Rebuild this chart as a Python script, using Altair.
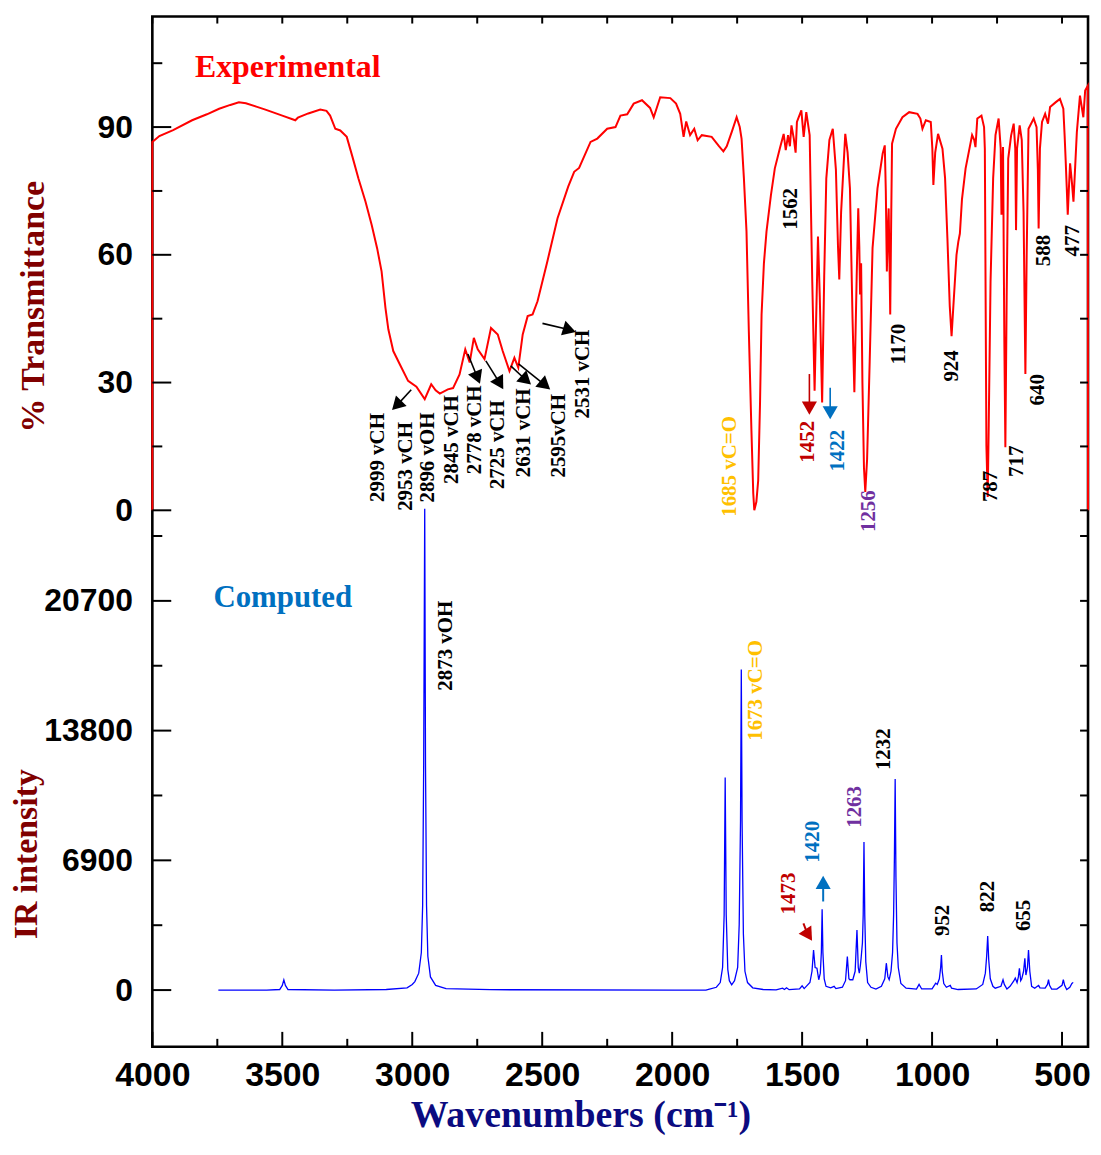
import altair as alt
import pandas as pd

W, H = 940, 1035

# ---------------- Experimental FT-IR spectrum (wavenumber, %T) ----------------
exp_wn = [4000, 4000, 3973, 3920, 3847, 3790, 3743, 3700, 3667, 3640, 3600, 3565, 3500, 3450, 3440,
          3400, 3354, 3330, 3316, 3296, 3277, 3252, 3230, 3207, 3180, 3156, 3135, 3118, 3103, 3092,
          3073, 3048, 3016, 2984, 2952, 2927, 2910, 2894, 2863, 2843, 2818, 2796, 2779, 2763, 2748,
          2722, 2697, 2671, 2652, 2626, 2607, 2592, 2575, 2556, 2537, 2518, 2480, 2441, 2400, 2377,
          2358, 2314, 2288, 2250, 2218, 2199, 2173, 2148, 2116, 2085, 2071, 2046, 2007, 1985, 1969,
          1956, 1946, 1931, 1915, 1902, 1886, 1848, 1820, 1803, 1790, 1770, 1752, 1740, 1733, 1724,
          1714, 1705, 1695, 1688, 1684, 1676, 1669, 1662, 1656, 1647, 1637, 1620, 1605, 1586, 1571,
          1563, 1554, 1547, 1541, 1532, 1525, 1520, 1503, 1494, 1484, 1471, 1461, 1452, 1446, 1439,
          1432, 1423, 1415, 1407, 1395, 1382, 1370, 1362, 1357, 1350, 1334, 1325, 1316, 1306, 1299,
          1290, 1284, 1280, 1277, 1273, 1268, 1262, 1257, 1250, 1240, 1229, 1210, 1190, 1182, 1178,
          1174, 1170, 1167, 1163, 1161, 1157, 1154, 1139, 1114, 1088, 1056, 1045, 1037, 1024, 1005,
          999, 995, 988, 977, 960, 950, 941, 932, 925, 918, 906, 899, 893, 885, 871,
          846, 838, 833, 826, 810, 800, 797, 791, 786, 782, 775, 765, 756, 744, 736,
          733, 730, 727, 722, 718, 713, 707, 696, 686, 680, 677, 673, 663, 655, 648,
          641, 636, 629, 609, 598, 593, 590, 585, 577, 565, 554, 546, 525, 508, 495,
          490, 486, 482, 478, 474, 469, 462, 456, 450, 443, 431, 418, 411, 401, 400]
exp_T = [0, 86.5, 87.9, 89.3, 91.6, 93.0, 94.3, 95.2, 95.8, 95.6, 94.8, 94.1, 92.7, 91.6, 92.2,
         93.2, 94.1, 93.8, 92.7, 89.6, 89.2, 87.7, 83.0, 77.9, 72.5, 67.0, 61.5, 56.1, 47.5, 42.5,
         37.4, 34.3, 30.4, 29.0, 26.1, 29.6, 28.2, 27.4, 28.4, 28.7, 31.9, 37.8, 34.7, 40.5, 37.8,
         35.5, 42.8, 41.3, 37.4, 32.7, 35.8, 33.5, 41.3, 45.6, 46.0, 49.1, 58.5, 68.6, 76.0, 79.5,
         80.4, 86.5, 87.3, 89.6, 90.0, 92.7, 93.0, 95.5, 96.3, 94.5, 92.3, 97.0, 96.8, 95.5, 93.1,
         87.7, 91.3, 88.1, 89.6, 86.9, 88.1, 87.7, 85.5, 84.3, 85.5, 89.0, 92.3, 90.0, 87.3, 78.0,
         65.5, 42.0, 18.7, 4.0, 0.0, 2.0, 7.0, 25.0, 46.0, 58.0, 65.5, 74.0, 80.3, 84.9, 88.4,
         84.6, 88.1, 85.5, 90.4, 87.3, 84.0, 91.2, 93.9, 87.7, 93.5, 88.1, 53.8, 28.1, 45.0, 64.3,
         50.0, 25.3, 55.0, 77.9, 87.0, 89.6, 80.0, 62.0, 54.2, 70.0, 88.4, 84.0, 75.6, 45.0, 27.7,
         55.0, 70.9, 62.0, 50.7, 58.0, 30.0, 10.0, 4.3, 12.0, 35.0, 61.6, 75.6, 83.8, 85.7, 75.0,
         56.1, 66.0, 70.9, 55.0, 46.0, 70.0, 86.1, 89.6, 92.3, 93.5, 93.1, 92.0, 89.6, 91.6, 91.2,
         85.0, 76.4, 84.0, 88.4, 84.9, 78.0, 63.9, 48.0, 40.9, 48.0, 60.0, 63.1, 65.0, 73.0, 80.3,
         88.1, 87.0, 85.3, 92.0, 92.7, 90.0, 84.9, 15.2, 3.1, 20.0, 53.8, 78.0, 88.1, 92.0, 85.0,
         69.4, 80.0, 85.3, 40.0, 14.8, 50.0, 82.6, 88.0, 90.8, 85.0, 65.8, 85.0, 90.4, 87.0, 70.0,
         32.0, 60.0, 89.6, 92.0, 90.0, 80.0, 66.2, 85.0, 91.2, 93.1, 90.8, 94.7, 95.8, 96.6, 94.3,
         88.0, 82.2, 76.0, 69.4, 75.0, 81.5, 77.0, 72.5, 80.0, 88.8, 97.4, 92.3, 98.6, 99.7, 0]

# ---------------- Computed IR spectrum (wavenumber, intensity) ----------------
calc_wn = [3746, 3560, 3510, 3500, 3494, 3488, 3478, 3300, 3100, 3020, 3000, 2990, 2975, 2965, 2960,
           2956, 2952, 2949, 2945, 2940, 2930, 2910, 2870, 2700, 1990, 1870, 1860, 1830, 1815, 1806,
           1800, 1796, 1792, 1786, 1780, 1771, 1760, 1748, 1742, 1737, 1734, 1731, 1726, 1720, 1710,
           1690, 1650, 1600, 1575, 1568, 1560, 1550, 1510, 1500, 1492, 1470, 1462, 1456, 1450, 1443,
           1436, 1430, 1426, 1423, 1420, 1415, 1408, 1390, 1377, 1370, 1345, 1333, 1326, 1320, 1316,
           1305, 1296, 1289, 1284, 1280, 1276, 1273, 1268, 1265, 1262, 1259, 1255, 1248, 1235, 1216,
           1195, 1182, 1176, 1170, 1165, 1158, 1152, 1148, 1145, 1142, 1139, 1135, 1130, 1120, 1100,
           1060, 1050, 1040, 1000, 989, 986, 980, 972, 967, 964, 961, 955, 945, 930, 925,
           900, 830, 805, 795, 790, 786, 782, 776, 766, 757, 735, 727, 722, 712, 700,
           685, 680, 673, 668, 664, 659, 655, 648, 643, 639, 633, 629, 624, 617, 605,
           595, 590, 585, 565, 556, 552, 548, 540, 520, 500, 495, 490, 482, 470, 462, 457]
calc_I = [0, 0, 30, 250, 545, 250, 30, 0, 30, 120, 300, 450, 900, 2000, 4500,
          12000, 25600, 12000, 4500, 1800, 700, 250, 80, 20, 0, 0, 40, 150, 400, 1200,
          4000, 11300, 4000, 1100, 500, 280, 500, 1200, 3500, 9000, 17050, 9000, 3000, 1000, 400,
          120, 30, 10, 100, 30, 120, 20, 60, 230, 80, 400, 1000, 2130, 1200, 1160,
          550, 900, 2000, 4300, 2000, 600, 200, 120, 200, 80, 150, 500, 1780, 600, 550,
          550, 1000, 3190, 1200, 900, 1300, 1690, 2500, 4000, 7870, 4000, 1500, 400, 150, 50,
          200, 600, 1430, 700, 550, 1000, 2000, 4000, 7000, 11220, 6000, 2500, 1200, 350, 100,
          50, 300, 60, 60, 300, 370, 300, 600, 1200, 1870, 1000, 350, 150, 250, 100,
          30, 60, 300, 900, 1800, 2875, 1600, 600, 200, 100, 200, 550, 300, 60, 200,
          500, 640, 400, 700, 1160, 500, 600, 1000, 1690, 800, 1200, 2130, 1000, 200, 100,
          200, 250, 120, 100, 300, 550, 250, 50, 50, 250, 550, 250, 30, 150, 350, 410]

# ---------------- Axis ticks ----------------
x_major = [4000, 3500, 3000, 2500, 2000, 1500, 1000, 500]
x_minor = [3750, 3250, 2750, 2250, 1750, 1250, 750]
t_major = [0, 30, 60, 90]
t_minor = [15, 45, 75, 105]
i_major = [0, 6900, 13800, 20700]
i_minor = [3450, 10350, 17250, 24150]

# ---------------- Annotations ----------------
up_text = ["2999 vCH", "2953 vCH", "2896 vOH", "2845 vCH", "2778 vCH", "2725 vCH", "2631 vCH",
           "2595vCH", "2531 vCH", "1685 vC=O", "1562", "1452", "1422", "1256", "1170", "924",
           "787", "717", "640", "588", "477"]
up_wn = [3131, 3023, 2939, 2847, 2759, 2671, 2571, 2437, 2342, 1779, 1541, 1476, 1361, 1243,
         1128, 925, 775, 672, 591, 568, 457]
up_T = [12.4, 10.3, 12.4, 16.6, 18.9, 15.4, 18.2, 17.5, 32.0, 10.3, 70.8, 16.1, 14.0, -0.2,
        39.0, 33.9, 5.6, 11.5, 28.3, 61.0, 63.3]
up_role = ["k"] * 9 + ["gold", "k", "dred", "blue", "purple"] + ["k"] * 7

lo_text = ["2873 vOH", "1673 vC=O", "1232", "1263", "1420", "1473", "952", "822", "655"]
lo_wn = [2870, 1679, 1185, 1296, 1457, 1549, 959, 783, 645]
lo_I = [18317, 15935, 12811, 9741, 7888, 5135, 3706, 4976, 3971]
lo_role = ["k", "gold", "k", "purple", "blue", "dred", "k", "k", "k"]

# arrows: start point, head point, head direction (deg)
ua_wn1 = [3004, 2786, 2717, 2621, 2591, 2499, 1472, 1392]
ua_T1 = [28.3, 36.7, 35.1, 33.9, 34.4, 43.9, 32.0, 28.8]
ua_wn2 = [3054, 2752, 2667, 2568, 2495, 2403, 1472, 1392]
ua_T2 = [25.0, 31.6, 30.2, 30.9, 29.7, 42.5, 24.5, 23.4]
ua_ang = [225, 158, 149, 132, 130, 107, 180, 180]
ua_role = ["k"] * 6 + ["dred", "blue"]

la_wn1 = [1495, 1419]
la_I1 = [3547, 4712]
la_wn2 = [1480, 1419]
la_I2 = [3018, 5612]
la_ang = [147, 0]
la_role = ["dred", "blue"]

roles = ["k", "gold", "dred", "blue", "purple"]
role_colors = ["#000000", "#FFC000", "#C00000", "#0070C0", "#7030A0"]
role_scale = alt.Scale(domain=roles, range=role_colors)

# ---------------- Data frames ----------------
exp_df = pd.DataFrame({"wn": exp_wn, "v": exp_T, "i": list(range(len(exp_wn)))})
calc_df = pd.DataFrame({"wn": calc_wn, "v": calc_I, "i": list(range(len(calc_wn)))})
up_lab = pd.DataFrame({"wn": up_wn, "v": up_T, "t": up_text, "r": up_role})
lo_lab = pd.DataFrame({"wn": lo_wn, "v": lo_I, "t": lo_text, "r": lo_role})
up_arr = pd.DataFrame({"wn": ua_wn1, "v": ua_T1, "wn2": ua_wn2, "v2": ua_T2, "a": ua_ang, "r": ua_role})
lo_arr = pd.DataFrame({"wn": la_wn1, "v": la_I1, "wn2": la_wn2, "v2": la_I2, "a": la_ang, "r": la_role})

xs = alt.Scale(domain=[400, 4000], reverse=True, nice=False, zero=False)
ys_T = alt.Scale(domain=[-126.0, 115.95], nice=False, zero=False)
ys_I = alt.Scale(domain=[-3018, 51777], nice=False, zero=False)

SANS = "Liberation Sans"
SERIF = "Liberation Serif"

x_axis = alt.Axis(values=x_major, format="d", ticks=False, domain=False, grid=False,
                  labelFont=SANS, labelFontWeight="bold", labelFontSize=34, labelColor="black",
                  labelPadding=12, labelFlush=False, labelOverlap=False,
                  title="Wavenumbers (cm\u207B\u00B9)", titleFont=SERIF, titleFontWeight="bold",
                  titleFontSize=38, titleColor="#0B0B80", titleX=430, titleY=80,
                  titleBaseline="alphabetic")

yT_axis = alt.Axis(values=t_major, format="d", ticks=False, domain=False, grid=False, orient="left",
                   labelFont=SANS, labelFontWeight="bold", labelFontSize=32, labelColor="black",
                   labelPadding=20, labelOverlap=False,
                   title="% Transmittance", titleFont=SERIF, titleFontWeight="bold", titleFontSize=34,
                   titleColor="#800000", titleX=-119, titleY=291, titleBaseline="middle",
                   titleAngle=270)
yI_axis = alt.Axis(values=i_major, format="d", ticks=False, domain=False, grid=False, orient="left",
                   labelFont=SANS, labelFontWeight="bold", labelFontSize=32, labelColor="black",
                   labelPadding=20, labelOverlap=False,
                   title="IR intensity", titleFont=SERIF, titleFontWeight="bold", titleFontSize=34,
                   titleColor="#800000", titleX=-126, titleY=841, titleBaseline="middle",
                   titleAngle=270)


def X(field="wn:Q"):
    return alt.X(field, scale=xs, axis=x_axis)


# ---------- upper (experimental) group ----------
exp_line = alt.Chart(exp_df).mark_line(color="#FF0000", strokeWidth=2).encode(
    x=X(),
    y=alt.Y("v:Q", scale=ys_T, axis=yT_axis),
    order=alt.Order("i:Q"),
)

up_labels = alt.Chart(up_lab).mark_text(angle=270, align="center", baseline="middle",
                                        font=SERIF, fontWeight="bold", fontSize=21).encode(
    x=X(), y=alt.Y("v:Q", scale=ys_T, axis=yT_axis), text="t:N",
    color=alt.Color("r:N", scale=role_scale, legend=None),
)

exp_title = alt.Chart(pd.DataFrame({"wn": [3479], "v": [104.0], "t": ["Experimental"]})).mark_text(
    align="center", baseline="middle", font=SERIF, fontWeight="bold", fontSize=32, color="#FF0000"
).encode(x=X(), y=alt.Y("v:Q", scale=ys_T, axis=yT_axis), text="t:N")

up_arrow_lines = alt.Chart(up_arr).mark_rule(strokeWidth=1.6).encode(
    x=X(), x2="wn2:Q", y=alt.Y("v:Q", scale=ys_T, axis=yT_axis), y2="v2:Q",
    color=alt.Color("r:N", scale=role_scale, legend=None),
)
up_arrow_heads = alt.Chart(up_arr).mark_point(shape="triangle", filled=True, size=230, opacity=1).encode(
    x=X("wn2:Q"), y=alt.Y("v2:Q", scale=ys_T, axis=yT_axis),
    angle=alt.Angle("a:Q", scale=None),
    color=alt.Color("r:N", scale=role_scale, legend=None),
)

tmaj = pd.DataFrame({"v": t_major})
tmin = pd.DataFrame({"v": t_minor})
t_ticks = [
    alt.Chart(tmaj).mark_rule(color="black", strokeWidth=2).encode(
        y=alt.Y("v:Q", scale=ys_T, axis=yT_axis), x=alt.value(0), x2=alt.value(19)),
    alt.Chart(tmin).mark_rule(color="black", strokeWidth=2).encode(
        y=alt.Y("v:Q", scale=ys_T, axis=yT_axis), x=alt.value(0), x2=alt.value(10)),
    alt.Chart(pd.DataFrame({"v": t_major + t_minor})).mark_rule(color="black", strokeWidth=2).encode(
        y=alt.Y("v:Q", scale=ys_T, axis=yT_axis), x=alt.value(W), x2=alt.value(W - 8)),
]

xmaj = pd.DataFrame({"wn": x_major})
xmin = pd.DataFrame({"wn": x_minor})
x_ticks = [
    alt.Chart(xmaj).mark_rule(color="black", strokeWidth=2).encode(
        x=X(), y=alt.value(H), y2=alt.value(H - 15)),
    alt.Chart(xmin).mark_rule(color="black", strokeWidth=2).encode(
        x=X(), y=alt.value(H), y2=alt.value(H - 8)),
    alt.Chart(pd.DataFrame({"wn": x_major + x_minor})).mark_rule(color="black", strokeWidth=2).encode(
        x=X(), y=alt.value(0), y2=alt.value(7)),
]

upper = alt.layer(exp_line, up_labels, exp_title, up_arrow_lines, up_arrow_heads, *t_ticks, *x_ticks)

# ---------- lower (computed) group ----------
calc_line = alt.Chart(calc_df).mark_line(color="#0000FF", strokeWidth=1.3).encode(
    x=X(),
    y=alt.Y("v:Q", scale=ys_I, axis=yI_axis),
    order=alt.Order("i:Q"),
)
lo_labels = alt.Chart(lo_lab).mark_text(angle=270, align="center", baseline="middle",
                                        font=SERIF, fontWeight="bold", fontSize=21).encode(
    x=X(), y=alt.Y("v:Q", scale=ys_I, axis=yI_axis), text="t:N",
    color=alt.Color("r:N", scale=role_scale, legend=None),
)
calc_title = alt.Chart(pd.DataFrame({"wn": [3498], "v": [20858], "t": ["Computed"]})).mark_text(
    align="center", baseline="middle", font=SERIF, fontWeight="bold", fontSize=31, color="#0070C0"
).encode(x=X(), y=alt.Y("v:Q", scale=ys_I, axis=yI_axis), text="t:N")
lo_arrow_lines = alt.Chart(lo_arr).mark_rule(strokeWidth=2).encode(
    x=X(), x2="wn2:Q", y=alt.Y("v:Q", scale=ys_I, axis=yI_axis), y2="v2:Q",
    color=alt.Color("r:N", scale=role_scale, legend=None),
)
lo_arrow_heads = alt.Chart(lo_arr).mark_point(shape="triangle", filled=True, size=230, opacity=1).encode(
    x=X("wn2:Q"), y=alt.Y("v2:Q", scale=ys_I, axis=yI_axis),
    angle=alt.Angle("a:Q", scale=None),
    color=alt.Color("r:N", scale=role_scale, legend=None),
)
imaj = pd.DataFrame({"v": i_major})
imin = pd.DataFrame({"v": i_minor})
i_ticks = [
    alt.Chart(imaj).mark_rule(color="black", strokeWidth=2).encode(
        y=alt.Y("v:Q", scale=ys_I, axis=yI_axis), x=alt.value(0), x2=alt.value(19)),
    alt.Chart(imin).mark_rule(color="black", strokeWidth=2).encode(
        y=alt.Y("v:Q", scale=ys_I, axis=yI_axis), x=alt.value(0), x2=alt.value(10)),
    alt.Chart(pd.DataFrame({"v": i_major + i_minor})).mark_rule(color="black", strokeWidth=2).encode(
        y=alt.Y("v:Q", scale=ys_I, axis=yI_axis), x=alt.value(W), x2=alt.value(W - 8)),
]
lower = alt.layer(calc_line, lo_labels, calc_title, lo_arrow_lines, lo_arrow_heads, *i_ticks)

chart = alt.layer(upper, lower).resolve_scale(y="independent", color="shared").properties(
    width=W, height=H,
    autosize=alt.AutoSizeParams(type="none"),
    padding={"left": 145, "top": 6, "right": 5, "bottom": 91},
    background="white",
).configure_view(stroke="black", strokeWidth=2.6)

chart.save("out.html", embed_options={"renderer": "svg", "actions": False})
